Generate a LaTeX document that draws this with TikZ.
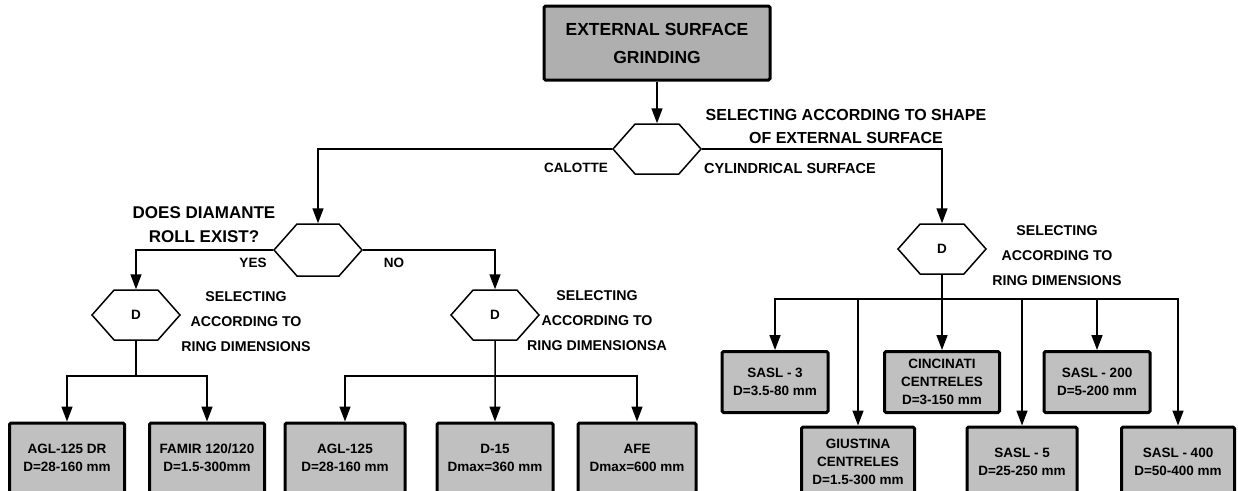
\documentclass[tikz,border=0pt]{standalone}
\usepackage{fontspec}
\setmainfont{Liberation Sans}
\usetikzlibrary{shapes.symbols, arrows.meta, positioning}
\definecolor{topgray}{RGB}{175,175,175}
\definecolor{boxgray}{RGB}{192,192,192}

\begin{document}
\begin{tikzpicture}[x=1pt, y=-1pt, line width=1.5pt,
    >={Triangle[length=15pt,width=11pt]},
    hexa/.style={signal, signal to=west and east, signal pointer angle=97, draw, line width=1.5pt,
                 minimum width=88pt, minimum height=50pt, inner sep=0pt, font=\bfseries\fontsize{13.5}{15}\selectfont},
    mbox/.style={draw, line width=3pt, fill=boxgray, rounded corners=1.5pt, align=center,
                 minimum height=70pt, inner sep=0pt, font=\bfseries\fontsize{13.5}{18}\selectfont},
    biglbl/.style={align=center, font=\bfseries\fontsize{16}{23}\selectfont},
    lbl/.style={align=center, font=\bfseries\fontsize{14.2}{25}\selectfont},
    tag/.style={font=\bfseries\fontsize{13.5}{16}\selectfont}]
      \useasboundingbox (0,0) rectangle (1238,490);

      \node[mbox, fill=topgray, minimum width=226pt, minimum height=74pt,
            font=\bfseries\fontsize{17.5}{28}\selectfont] (grind)  at (657,43)  {EXTERNAL SURFACE\\GRINDING};
      \node[hexa]                       (shape)  at (657,149) {};
      \node[biglbl]                     (shapeq) at (846,126) {SELECTING ACCORDING TO SHAPE\\OF EXTERNAL SURFACE};
      \node[tag]                        (calot)  at (576,168) {CALOTTE};
      \node[tag, font=\bfseries\fontsize{14.5}{16}\selectfont]
                                        (cyl)    at (790,169) {CYLINDRICAL SURFACE};

      \node[hexa, minimum height=52pt]  (roll)   at (318,250) {};
      \node[biglbl, font=\bfseries\fontsize{17}{24}\selectfont]
                                        (rollq)  at (204,225) {DOES DIAMANTE\\ROLL EXIST?};
      \node[tag]                        (yes)    at (253,263) {YES};
      \node[tag]                        (no)     at (394,263) {NO};

      \node[hexa]                       (dl)     at (136,315) {D};
      \node[hexa]                       (dm)     at (495,315) {D};
      \node[hexa]                       (dr)     at (942,249) {D};
      \node[lbl]                        (dlq)    at (246,322) {SELECTING\\ACCORDING TO\\RING DIMENSIONS};
      \node[lbl]                        (dmq)    at (597,321) {SELECTING\\ACCORDING TO\\RING DIMENSIONSA};
      \node[lbl]                        (drq)    at (1057,256) {SELECTING\\ACCORDING TO\\RING DIMENSIONS};

      \node[mbox, minimum width=115pt]  (agldr)  at (67,458)  {AGL-125 DR\\D=28-160 mm};
      \node[mbox, minimum width=115pt]  (famir)  at (207,458) {FAMIR 120/120\\D=1.5-300mm};
      \node[mbox, minimum width=120pt]  (agl)    at (345,458) {AGL-125\\D=28-160 mm};
      \node[mbox, minimum width=116pt]  (dfif)   at (495,458) {D-15\\Dmax=360 mm};
      \node[mbox, minimum width=118pt]  (afe)    at (637,458) {AFE\\Dmax=600 mm};

      \node[mbox, minimum width=106pt, minimum height=61pt] (sasl3)   at (775,382)  {SASL - 3\\D=3.5-80 mm};
      \node[mbox, minimum width=115pt, minimum height=61pt] (cinc)    at (942,382)  {CINCINATI\\CENTRELES\\D=3-150 mm};
      \node[mbox, minimum width=106pt, minimum height=61pt] (sasl200) at (1097,382) {SASL - 200\\D=5-200 mm};
      \node[mbox, minimum width=113pt]  (giust)   at (858,462)  {GIUSTINA\\CENTRELES\\D=1.5-300 mm};
      \node[mbox, minimum width=110pt]  (sasl5)   at (1022,462) {SASL - 5\\D=25-250 mm};
      \node[mbox, minimum width=113pt]  (sasl400) at (1178,462) {SASL - 400\\D=50-400 mm};

      \coordinate (jl) at (136,376);
      \coordinate (jm) at (495,376);
      \coordinate (jr) at (942,299);

      \draw[->] (grind) -- (shape);
      \draw[->] (shape.west) -| (roll.north);
      \draw[->] (shape.east) -| (dr.north);
      \draw[->] (roll.west) -| (dl.north);
      \draw[->] (roll.east) -| (dm.north);

      \draw (dl) -- (jl);
      \draw[->] (jl) -| (agldr);
      \draw[->] (jl) -| (famir);

      \draw[->] (dm) -- (dfif);
      \draw[->] (jm) -| (agl);
      \draw[->] (jm) -| (afe);

      \draw[->] (dr) -- (cinc);
      \draw[->] (jr) -| (sasl3);
      \draw[->] (jr) -| (giust);
      \draw[->] (jr) -| (sasl5);
      \draw[->] (jr) -| (sasl200);
      \draw[->] (jr) -| (sasl400);
\end{tikzpicture}
\end{document}
